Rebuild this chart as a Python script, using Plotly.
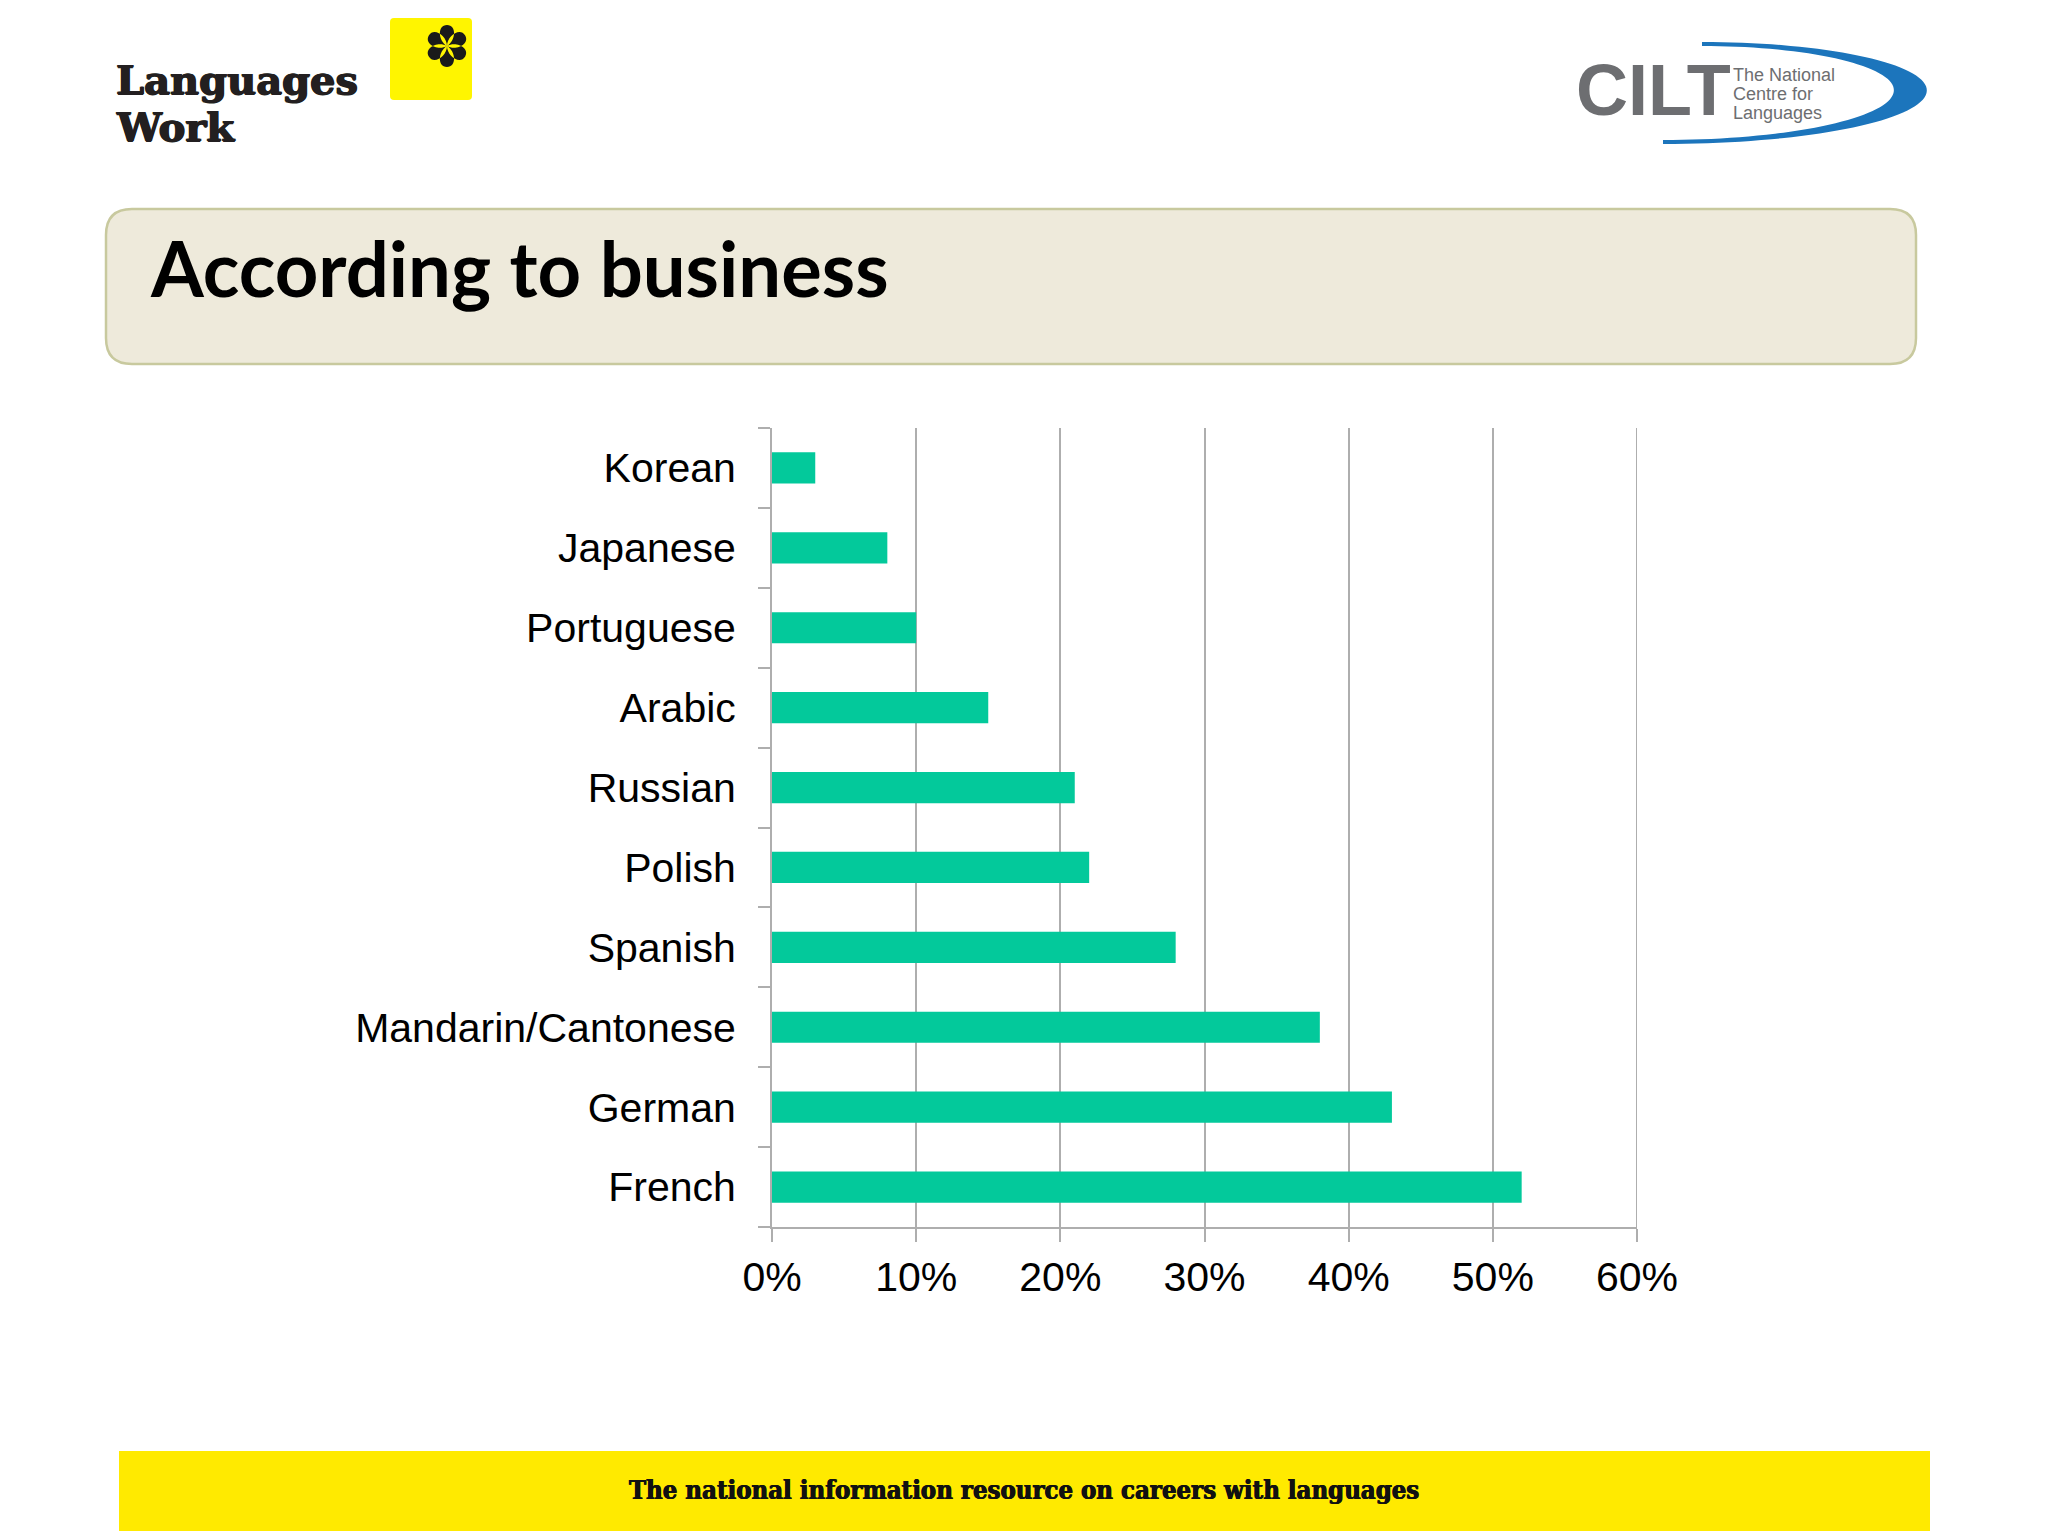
import math
import plotly.graph_objects as go

# ---------------- data ----------------
languages = ["French", "German", "Mandarin/Cantonese", "Spanish", "Polish",
             "Russian", "Arabic", "Portuguese", "Japanese", "Korean"]
shares = [0.52, 0.43, 0.38, 0.28, 0.22, 0.21, 0.15, 0.10, 0.08, 0.03]
x_ticks = [0.0, 0.1, 0.2, 0.3, 0.4, 0.5, 0.6]
title_text = "According to business"
footer_text = "The national information resource on careers with languages"

# ---------------- geometry helpers (page pixels) ----------------
OFF = 8                      # browser body margin
FW, FH = 2048 - OFF, 1531 - OFF
L, R, T, B = 772, 1637, 428, 1227
PW, PH = R - L, B - T


def px(x):
    return (x - L) / PW


def py(y):
    return (B - y) / PH


def rounded_rect(x0, y0, x1, y1, r):
    return (f"M {px(x0 + r)},{py(y0)} L {px(x1 - r)},{py(y0)} "
            f"Q {px(x1)},{py(y0)} {px(x1)},{py(y0 + r)} "
            f"L {px(x1)},{py(y1 - r)} Q {px(x1)},{py(y1)} {px(x1 - r)},{py(y1)} "
            f"L {px(x0 + r)},{py(y1)} Q {px(x0)},{py(y1)} {px(x0)},{py(y1 - r)} "
            f"L {px(x0)},{py(y0 + r)} Q {px(x0)},{py(y0)} {px(x0 + r)},{py(y0)} Z")


def asterisk_path(cx, cy, length, width):
    parts = []
    for k in range(6):
        a = math.radians(90 + 60 * k)
        ux, uy = math.cos(a), -math.sin(a)
        vx, vy = -uy, ux
        tx, ty = cx + length * ux, cy + length * uy
        c1 = (cx + 0.25 * length * ux + width * vx, cy + 0.25 * length * uy + width * vy)
        c2 = (tx + 1.1 * width * vx, ty + 1.1 * width * vy)
        c3 = (tx - 1.1 * width * vx, ty - 1.1 * width * vy)
        c4 = (cx + 0.25 * length * ux - width * vx, cy + 0.25 * length * uy - width * vy)
        parts.append(
            f"M {px(cx)},{py(cy)} C {px(c1[0])},{py(c1[1])} {px(c2[0])},{py(c2[1])} {px(tx)},{py(ty)} "
            f"C {px(c3[0])},{py(c3[1])} {px(c4[0])},{py(c4[1])} {px(cx)},{py(cy)} Z")
    return " ".join(parts)


def swoosh_path():
    n = 72
    outer, inner = [], []
    for i in range(n + 1):
        t = -math.pi / 2 + math.pi * i / n
        x0 = 1702 + (1663 - 1702) * i / n
        outer.append((x0 + 244 * math.cos(t), 93 + 51 * math.sin(t)))
        inner.append((x0 + 211 * math.cos(t), 93 + 47 * math.sin(t)))
    pts = outer + inner[::-1]
    s = f"M {px(pts[0][0])},{py(pts[0][1])} "
    s += " ".join(f"L {px(a)},{py(b)}" for a, b in pts[1:])
    return s + " Z"


# ---------------- figure ----------------
fig = go.Figure()
fig.add_trace(go.Bar(
    y=languages, x=shares, orientation="h",
    marker=dict(color="#03C99B", line=dict(width=0)),
    hoverinfo="skip",
))

grid_col = "#AEAEAE"
gw = 2
fig.update_layout(
    width=FW, height=FH, autosize=False,
    margin=dict(l=L - OFF, r=FW - (R - OFF), t=T - OFF, b=FH - (B - OFF), pad=0),
    paper_bgcolor="white", plot_bgcolor="white",
    showlegend=False, bargap=0.61,
    font=dict(family="Arial, Liberation Sans, sans-serif", color="#000000", size=41),
    xaxis=dict(range=[x_ticks[0], x_ticks[-1]], tickvals=x_ticks, tickformat=".0%",
               showgrid=True, gridcolor=grid_col, gridwidth=gw,
               zeroline=False, showline=True, linecolor=grid_col, linewidth=gw,
               ticks="outside", ticklen=13, tickcolor=grid_col, tickwidth=gw,
               tickfont=dict(size=41, color="#000")),
    yaxis=dict(type="category", categoryorder="array", categoryarray=languages,
               showgrid=False, zeroline=False, showline=True, linecolor=grid_col,
               linewidth=gw, ticks="outside", ticklen=12, tickcolor=grid_col,
               tickwidth=gw, tickson="boundaries", ticklabelstandoff=26,
               tickfont=dict(size=41, color="#000")),
)

shapes = []
# right-edge gridline at the last x tick
shapes.append(dict(type="line", xref="x", yref="paper", x0=x_ticks[-1], x1=x_ticks[-1],
                   y0=-13 / PH, y1=1, line=dict(color=grid_col, width=gw), layer="below"))
# title box
shapes.append(dict(type="path", xref="paper", yref="paper",
                   path=rounded_rect(106, 209, 1916, 364, 26),
                   fillcolor="#EEEADB", line=dict(color="#C8C99E", width=2.5), layer="above"))
# footer band
shapes.append(dict(type="rect", xref="paper", yref="paper",
                   x0=px(119), x1=px(1930), y0=py(1540), y1=py(1451),
                   fillcolor="#FFEA00", line=dict(width=0), layer="above"))
# yellow square logo
shapes.append(dict(type="path", xref="paper", yref="paper",
                   path=rounded_rect(390, 18, 472, 100, 4),
                   fillcolor="#FFF500", line=dict(width=0), layer="above"))
shapes.append(dict(type="path", xref="paper", yref="paper",
                   path=asterisk_path(447, 46, 21, 9),
                   fillcolor="#1A1A1A", line=dict(width=0), layer="above"))
# CILT swoosh
shapes.append(dict(type="path", xref="paper", yref="paper",
                   path=swoosh_path(), fillcolor="#1C75BC",
                   line=dict(width=0), layer="above"))
fig.update_layout(shapes=shapes)

bold_shadow = "0.8px 0 0 #231F20, -0.8px 0 0 #231F20, 0 0.5px 0 #231F20"
annotations = [
    dict(text=title_text, x=px(148), y=py(268), xanchor="left", yanchor="middle",
         font=dict(family="Lato, Open Sans, sans-serif", size=76, color="#000", weight="bold")),
    dict(text=footer_text, x=px(1024), y=py(1490), xanchor="center", yanchor="middle",
         font=dict(family="DejaVu Serif Condensed, DejaVu Serif, serif", size=25.5,
                   color="#111", weight="bold",
                   shadow="0.5px 0 0 #111, -0.5px 0 0 #111")),
    dict(text="Languages", x=px(114), y=py(79), xanchor="left", yanchor="middle",
         font=dict(family="DejaVu Serif, serif", size=40, color="#231F20", weight="bold",
                   shadow=bold_shadow)),
    dict(text="Work", x=px(114), y=py(127), xanchor="left", yanchor="middle",
         font=dict(family="DejaVu Serif, serif", size=40, color="#231F20", weight="bold",
                   shadow=bold_shadow)),
    dict(text="CILT", x=px(1574), y=py(90), xanchor="left", yanchor="middle",
         font=dict(family="Liberation Sans, Arial, sans-serif", size=72, color="#6D6E71", weight="bold")),
    dict(text="The National", x=px(1731), y=py(75), xanchor="left", yanchor="middle",
         font=dict(family="Liberation Sans, Arial, sans-serif", size=18, color="#6D6E71")),
    dict(text="Centre for", x=px(1731), y=py(94), xanchor="left", yanchor="middle",
         font=dict(family="Liberation Sans, Arial, sans-serif", size=18, color="#6D6E71")),
    dict(text="Languages", x=px(1731), y=py(113), xanchor="left", yanchor="middle",
         font=dict(family="Liberation Sans, Arial, sans-serif", size=18, color="#6D6E71")),
]
for a in annotations:
    a.update(xref="paper", yref="paper", showarrow=False)
fig.update_layout(annotations=annotations)

fig.write_html("out.html", config={"displayModeBar": False, "staticPlot": True})
